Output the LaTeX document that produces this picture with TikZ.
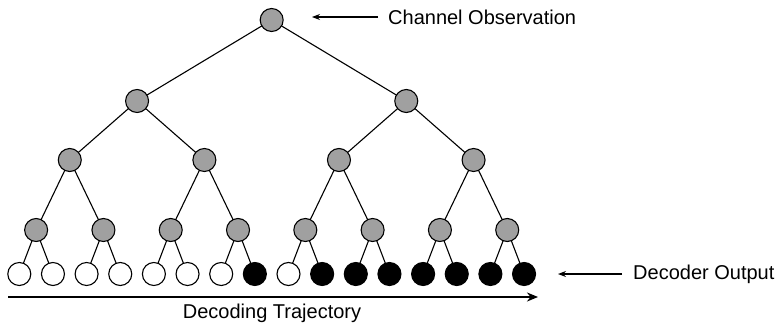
\documentclass[tikz,border=0pt]{standalone}
\usepackage{fontspec}
\setmainfont{Liberation Sans}
\usetikzlibrary{arrows.meta}
\definecolor{inner}{HTML}{A0A0A0}
\begin{document}
\begin{tikzpicture}[x=1pt,y=-1pt,
  vnode/.style={circle,draw=black,line width=1.1pt,minimum size=23pt,inner sep=0pt},
  gray/.style={vnode,fill=inner},
  zero/.style={vnode,fill=white},
  one/.style={vnode,fill=black},
  edge/.style={line width=1.1pt},
  pointer/.style={line width=1.1pt,-{Stealth[length=8pt,width=6pt]}},
  label/.style={font=\fontsize{20}{22}\selectfont,anchor=west,inner sep=0pt}]
\useasboundingbox (0,0) rectangle (777,324);
% leaf, level and root positions
\foreach \i in {0,...,15}
  \path (19.3+33.65*\i,274) coordinate (lp\i);
\foreach \j in {0,...,7}{
  \pgfmathsetmacro{\xx}{19.3+33.65*(2*\j+0.5)}
  \path (\xx,230) coordinate (cp\j);
}
\foreach \j in {0,...,3}{
  \pgfmathsetmacro{\xx}{19.3+33.65*(4*\j+1.5)}
  \path (\xx,160) coordinate (bp\j);
}
\foreach \j in {0,1}{
  \pgfmathsetmacro{\xx}{19.3+33.65*(8*\j+3.5)}
  \path (\xx,101) coordinate (ap\j);
}
\path (19.3+33.65*7.5,20) coordinate (rp);
% edges
\draw[edge] (rp) -- (ap0) (rp) -- (ap1);
\foreach \j in {0,1}{
  \pgfmathtruncatemacro{\a}{2*\j}\pgfmathtruncatemacro{\b}{2*\j+1}
  \draw[edge] (ap\j) -- (bp\a) (ap\j) -- (bp\b);
}
\foreach \j in {0,...,3}{
  \pgfmathtruncatemacro{\a}{2*\j}\pgfmathtruncatemacro{\b}{2*\j+1}
  \draw[edge] (bp\j) -- (cp\a) (bp\j) -- (cp\b);
}
\foreach \j in {0,...,7}{
  \pgfmathtruncatemacro{\a}{2*\j}\pgfmathtruncatemacro{\b}{2*\j+1}
  \draw[edge] (cp\j) -- (lp\a) (cp\j) -- (lp\b);
}
% nodes
\node[gray] (root) at (rp) {};
\foreach \j in {0,1} \node[gray] (a\j) at (ap\j) {};
\foreach \j in {0,...,3} \node[gray] (b\j) at (bp\j) {};
\foreach \j in {0,...,7} \node[gray] (c\j) at (cp\j) {};
\foreach \i/\s in {0/zero,1/zero,2/zero,3/zero,4/zero,5/zero,6/zero,7/one,
                   8/zero,9/one,10/one,11/one,12/one,13/one,14/one,15/one}
  \node[\s] (l\i) at (lp\i) {};
% annotations
\node[label] (obs) at (388,17) {Channel Observation};
\coordinate (obstip) at (312,17);
\draw[pointer] ([xshift=-10pt]obs.west) -- (obstip);
\node[label] (out) at (633,274) {Decoder Output};
\coordinate (outtip) at (558,274);
\draw[pointer] ([xshift=-11pt]out.west) -- (outtip);
% trajectory arrow
\coordinate (ts) at (8,297);
\coordinate (te) at (538,297);
\draw[line width=2pt,-{Stealth[length=11pt,width=9pt]}] (ts) -- (te);
\node[font=\fontsize{20}{22}\selectfont,inner sep=0pt] (traj) at (272,313) {Decoding Trajectory};
\end{tikzpicture}
\end{document}
